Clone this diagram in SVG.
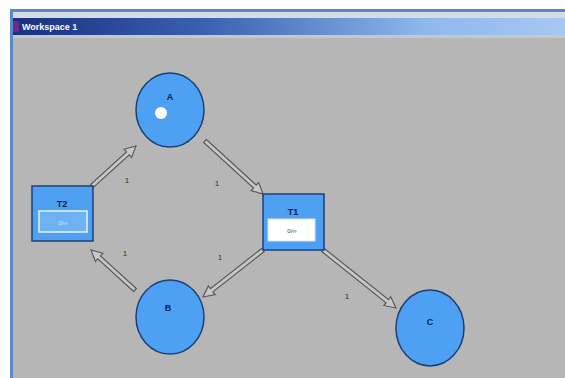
<svg xmlns="http://www.w3.org/2000/svg" width="565" height="378" viewBox="0 0 565 378">
<defs>
<linearGradient id="tb" x1="0" y1="0" x2="1" y2="0">
<stop offset="0" stop-color="#1a2f80"/>
<stop offset="0.35" stop-color="#3a62b0"/>
<stop offset="0.75" stop-color="#8fb8ec"/>
<stop offset="1" stop-color="#a6c8f2"/>
</linearGradient>
<style>
.place{fill:#4da0f2;stroke:#1d3f78;stroke-width:1.5}
.trans{fill:#4da0f2;stroke:#1d3f78;stroke-width:1.5}
.lbl{font-family:"Liberation Sans",Arial,sans-serif;font-size:9px;font-weight:bold;fill:#10204a;text-anchor:middle}
.w{font-family:"Liberation Sans",Arial,sans-serif;font-size:8px;fill:#333;text-anchor:middle}
.arr{fill:#c8c8c8;stroke:#5a5a5a;stroke-width:1.2;stroke-linejoin:miter}
.tok{font-family:"Liberation Sans",Arial,sans-serif;font-size:6px;fill:#444;text-anchor:middle}
.tok2{fill:#dde4f0}
</style>
</defs>
<rect width="565" height="378" fill="#ffffff"/>
<rect x="10" y="9" width="555" height="369" fill="#5b88c8"/>
<rect x="13" y="12" width="552" height="6" fill="#d6dce4"/>
<rect x="13" y="18" width="552" height="17" fill="url(#tb)"/>
<rect x="13" y="35" width="552" height="3" fill="#c4c8cc"/>
<rect x="13" y="38" width="552" height="340" fill="#b6b6b6"/>
<rect x="13" y="21" width="6" height="11" fill="#6a2a8a"/>
<text x="22" y="30" font-family="Liberation Sans,Arial,sans-serif" font-size="9" font-weight="bold" fill="#ffffff">Workspace 1</text>

<g id="connectors">
<polygon class="arr" transform="translate(92,186) rotate(-42.3)" points="0,-2 48.5,-2 48.5,-5.5 59.5,0 48.5,5.5 48.5,2 0,2"/>
<polygon class="arr" transform="translate(205,141) rotate(42.4)" points="0,-2 67.6,-2 67.6,-5.5 78.6,0 67.6,5.5 67.6,2 0,2"/>
<polygon class="arr" transform="translate(263,250) rotate(141.9)" points="0,-2 65.2,-2 65.2,-5.5 76.2,0 65.2,5.5 65.2,2 0,2"/>
<polygon class="arr" transform="translate(135,290) rotate(-137.7)" points="0,-2 48.5,-2 48.5,-5.5 59.5,0 48.5,5.5 48.5,2 0,2"/>
<polygon class="arr" transform="translate(323,250) rotate(38.5)" points="0,-2 82.2,-2 82.2,-5.5 93.2,0 82.2,5.5 82.2,2 0,2"/>
<text class="w" x="127" y="183">1</text>
<text class="w" x="217" y="186">1</text>
<text class="w" x="125" y="256">1</text>
<text class="w" x="220" y="260">1</text>
<text class="w" x="347" y="299">1</text>
</g>

<g id="A">
<ellipse class="place" cx="170" cy="110" rx="34" ry="37"/>
<text class="lbl" x="170" y="100">A</text>
<circle cx="161" cy="113" r="6" fill="#ffffff"/>
</g>
<g id="B">
<ellipse class="place" cx="170" cy="317" rx="34" ry="37"/>
<text class="lbl" x="168" y="311">B</text>
</g>
<g id="C">
<ellipse class="place" cx="430" cy="328" rx="34" ry="38"/>
<text class="lbl" x="430" y="325">C</text>
</g>
<g id="T2">
<rect class="trans" x="32" y="186" width="61" height="55"/>
<text class="lbl" x="62" y="207">T2</text>
<rect x="39" y="211" width="48" height="21" fill="#6eb2f4" stroke="#e8f2ff" stroke-width="1.5"/>
<text class="tok tok2" x="63" y="225">0/∞</text>
</g>
<g id="T1">
<rect class="trans" x="263" y="194" width="61" height="56"/>
<text class="lbl" x="293" y="215">T1</text>
<rect x="268" y="219" width="47" height="22" fill="#ffffff" stroke="#e0e0e0" stroke-width="1"/>
<text class="tok" x="292" y="233">0/∞</text>
</g>
</svg>
